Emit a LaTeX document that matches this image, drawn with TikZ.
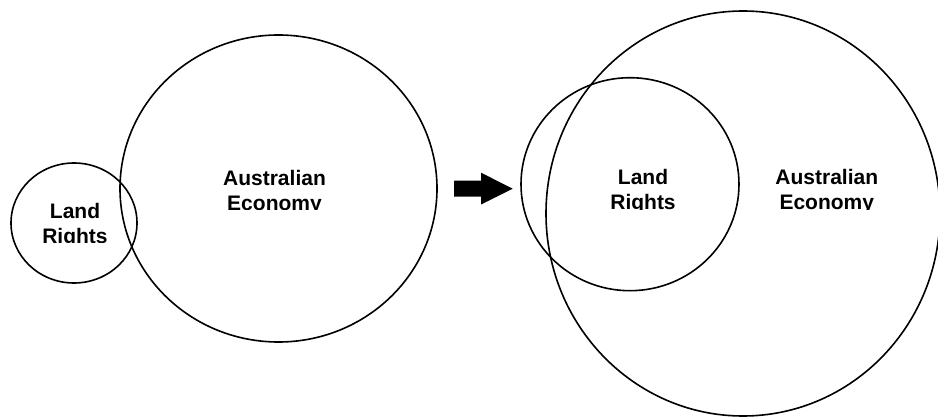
\documentclass[tikz,border=0pt]{standalone}
\usepackage{fontspec}
\setmainfont{Liberation Sans}
\usetikzlibrary{shapes.geometric}
\begin{document}
\begin{tikzpicture}[x=1pt,y=-1pt,
  ring/.style={draw=black, line width=1.6pt, ellipse, inner sep=0pt, fill=none},
  lbl/.style={anchor=north, inner sep=0pt, align=center,
    font=\bfseries\fontsize{21}{25}\selectfont}]
\useasboundingbox (0,0) rectangle (938,417);
% left pair
\node[ring, minimum width=126pt, minimum height=120pt] (lrA) at (74,223) {};
\node[ring, minimum width=317pt, minimum height=307pt] (aeA) at (278.5,188.5) {};
% arrow
\fill[black] (454,180.7) -- (481,180.7) -- (481,172.7) -- (512.7,188.7)
  -- (481,204.5) -- (481,196.7) -- (454,196.7) -- cycle;
% right pair
\node[ring, minimum width=218pt, minimum height=213pt] (lrB) at (630,184.2) {};
\node[ring, minimum width=394pt, minimum height=405pt] (aeB) at (743,213.5) {};
% labels (bottoms cut as in the picture)
\begin{scope}
  \clip (0,0) rectangle (938,242.8);
  \node[lbl] (tLandA) at (75,203) {Land\\Rights};
\end{scope}
\begin{scope}
  \clip (0,0) rectangle (938,209.4);
  \node[lbl] (tEcoA) at (274.5,170) {Australian\\Economy};
  \node[lbl] (tLandB) at (643,169.3) {Land\\Rights};
  \node[lbl] (tEcoB) at (826.8,169.3) {Australian\\Economy};
\end{scope}
\end{tikzpicture}
\end{document}
